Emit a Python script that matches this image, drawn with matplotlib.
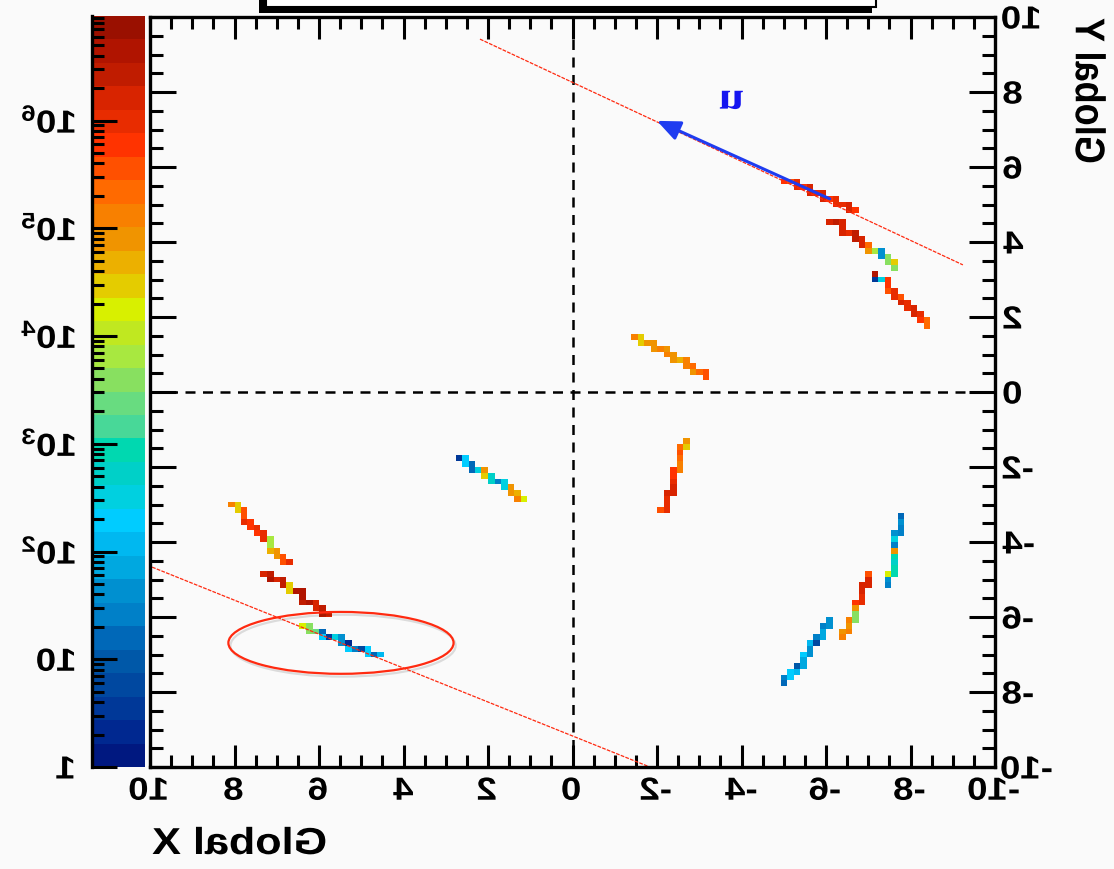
import numpy as np
import matplotlib
matplotlib.use('Agg')
import matplotlib.pyplot as plt
from matplotlib.colors import ListedColormap, LogNorm
from matplotlib.patches import Ellipse, Rectangle
from matplotlib.ticker import MultipleLocator, LogLocator
from matplotlib import patheffects
from matplotlib.transforms import Affine2D

plt.rcParams['font.family'] = 'Liberation Sans'
plt.rcParams['font.weight'] = 'bold'
plt.rcParams['mathtext.fontset'] = 'custom'
plt.rcParams['mathtext.rm'] = 'Liberation Sans:bold'
plt.rcParams['mathtext.default'] = 'rm'

# palette of the z axis, low counts -> high counts
palette = ['#001880', '#002890', '#003898', '#0048a0', '#0058a8', '#0068b8',
           '#0080c8', '#0090d0', '#00a8e0', '#00b8f0', '#00ccff', '#00d0e0',
           '#00d0c8', '#00d8b0', '#48d898', '#68dc80', '#88e060', '#a8e840',
           '#c0e820', '#d8f000', '#e4cc00', '#ecb000', '#f09400', '#f88000',
           '#ff6a00', '#ff5000', '#ff3300', '#e82c00', '#d82400', '#c01c00',
           '#b01400', '#9a1000']
z_top = 6.97  # log10 of palette maximum

# track pieces: start, end (global x, y) and log10(counts) of the cells along each
track_start = [(-4.96, 5.68), (-6.09, 4.56), (-7.11, 3.17), (-1.41, 1.47),
               (-2.14, -3.17), (-4.98, -7.79), (-6.38, -6.59), (-7.47, -5.20),
               (2.76, -1.76), (8.06, -3.07), (7.33, -4.77), (6.38, -6.27)]
track_end = [(-6.69, 4.83), (-7.68, 3.33), (-8.37, 1.73), (-3.16, 0.40),
             (-2.66, -1.25), (-6.07, -6.11), (-7.04, -4.77), (-7.75, -3.25),
             (1.12, -2.88), (6.76, -4.61), (5.83, -5.97), (4.60, -7.07)]
track_logz = [
    [5.8, 5.9, 5.6, 6.0, 5.8, 6.1, 5.7, 6.0, 6.2, 5.8, 6.0, 6.3, 5.9, 6.1, 5.7],
    [6.2, 6.4, 6.2, 6.3, 6.0, 6.4, 6.2, 5.4, 5.0, 3.8, 1.6, 3.6, 4.4, 3.5],
    [6.7, 0.6, 2.4, 5.8, 5.6, 6.0, 5.5, 6.1, 5.9, 6.2, 6.0, 5.8, 5.4],
    [0.8, 5.2, 4.4, 5.0, 4.8, 5.1, 4.9, 5.2, 5.0, 4.7, 5.1, 5.3, 5.0, 5.4, 5.5],
    [5.6, 6.0, 6.1, 5.9, 6.2, 6.3, 6.0, 5.8, 6.1, 5.7, 5.2, 5.4, 5.6, 5.3, 4.4, 5.0],
    [1.2, 1.5, 2.2, 2.0, 1.0, 1.8, 2.3, 1.6, 2.1, 0.8, 1.5, 1.9, 1.4, 1.7],
    [5.2, 5.0, 5.1, 4.9, 5.1, 3.7, 5.0, 5.6, 5.8, 6.0, 6.2, 6.3, 6.1, 6.4, 5.6],
    [1.4, 1.5, 1.6, 4.3, 3.0, 2.8, 2.9, 4.7, 5.0, 1.4, 2.4, 1.7, 1.5, 1.6, 1.3, 1.1],
    [3.7, 0.5, 2.3, 1.1, 2.4, 4.9, 4.4, 2.8, 1.5, 2.4, 5.0, 4.6, 5.2, 4.3],
    [5.2, 4.4, 5.6, 5.9, 5.8, 6.0, 5.7, 5.9, 3.9, 4.6, 5.0, 5.6, 5.9],
    [6.1, 6.4, 6.6, 6.3, 6.5, 4.4, 6.6, 6.7, 6.4, 6.6, 6.3, 6.5, 6.2],
    [4.3, 3.6, 3.4, 1.2, 2.3, 0.6, 2.4, 1.6, 0.4, 2.2, 1.5, 0.7, 2.3, 1.2, 2.1],
]

# fitted directions (thin red lines) and the drawn direction vector u
fit_start = [(2.19, 9.41), (9.95, -4.67)]
fit_end = [(-9.24, 3.39), (-1.83, -10.0)]
arrow_tail = (-6.09, 5.15)
arrow_head = (-2.00, 7.23)
u_pos = (-3.78, 7.81)
ring_center = (5.48, -6.69)
ring_size = (5.33, 1.65)

xtick_vals = [10, 8, 6, 4, 2, 0, -2, -4, -6, -8, -10]
xtick_labels = ['10', '8', '6', '4', '2', '0', '-2', '-4', '-6', '-8', '-10']
ytick_vals = [10, 8, 6, 4, 2, 0, -2, -4, -6, -8, -10]
ytick_labels = ['10', '8', '6', '4', '2', '0', '-2', '-4', '-6', '-8', '-10']
ztick_vals = [1, 10, 1e2, 1e3, 1e4, 1e5, 1e6]
ztick_labels = ['1', '10', r'$10^{2}$', r'$10^{3}$', r'$10^{4}$', r'$10^{5}$', r'$10^{6}$']

n_bins = 130


class Mirror(patheffects.AbstractPathEffect):
    """draw text glyphs mirrored left-right (and a bit wider) about their centre"""
    def __init__(self, stretch=1.15):
        super().__init__()
        self.stretch = stretch

    def draw_path(self, renderer, gc, tpath, affine, rgbFace=None):
        if len(tpath.vertices) == 0:
            return
        pts = affine.transform(tpath.vertices)
        cx = 0.5 * (pts[:, 0].min() + pts[:, 0].max())
        flip = affine + Affine2D().translate(-cx, 0).scale(-self.stretch, 1).translate(cx, 0)
        renderer.draw_path(gc, tpath, flip, rgbFace)


W, H = 1114, 870
bg = '#fafafa'
fig = plt.figure(figsize=(W / 100, H / 100), dpi=100, facecolor=bg)

# 2D histogram of hits, each track filled as a 4-connected staircase of bins
edges = np.linspace(-10, 10, n_bins + 1)
bin_w = edges[1] - edges[0]
counts = np.full((n_bins, n_bins), np.nan)
for (x0, y0), (x1, y1), lz in zip(track_start, track_end, track_logz):
    t = np.linspace(0, 1, len(lz))
    ix = ((x0 + (x1 - x0) * t + 10) / bin_w).astype(int)
    iy = ((y0 + (y1 - y0) * t + 10) / bin_w).astype(int)
    z = 10 ** np.array(lz)
    counts[iy, ix] = z
    for i in range(1, len(z)):
        if ix[i] != ix[i - 1] and iy[i] != iy[i - 1]:
            counts[iy[i - 1], ix[i]] = z[i]

cmap = ListedColormap(palette)
norm = LogNorm(vmin=1, vmax=10 ** z_top)

ax = fig.add_axes([150 / W, 1 - 768 / H, 845 / W, 750 / H])
ax.set_facecolor(bg)
mesh = ax.pcolormesh(edges, edges, np.ma.masked_invalid(counts), cmap=cmap, norm=norm)

ax.axvline(0, color='k', lw=1.8, ls=(0, (4, 3)))
ax.axhline(0, color='k', lw=1.8, ls=(0, (4, 3)))

for (x0, y0), (x1, y1) in zip(fit_start, fit_end):
    ax.plot([x0, x1], [y0, y1], color='#ff2a10', lw=0.9, ls=(0, (3, 1)))

ring = Ellipse(ring_center, ring_size[0], ring_size[1], fill=False,
               edgecolor='#ff2a10', lw=1.6)
ring.set_path_effects([patheffects.SimpleLineShadow(offset=(1.5, -2), alpha=0.12),
                       patheffects.Normal()])
ax.add_patch(ring)

ax.annotate('', xy=arrow_head, xytext=arrow_tail,
            arrowprops=dict(arrowstyle='-|>,head_length=0.7,head_width=0.3',
                            color='#1f3cf0', lw=2.2, shrinkA=0, shrinkB=0,
                            mutation_scale=20))
ax.text(u_pos[0], u_pos[1], 'u', family='Liberation Serif', weight='bold',
        color='#1414f0', fontsize=28, ha='center', va='center',
        path_effects=[Mirror()])

ax.set_xlim(10, -10)
ax.set_ylim(-10, 10)
ax.set_xticks(xtick_vals, labels=xtick_labels)
ax.set_yticks(ytick_vals, labels=ytick_labels)
ax.xaxis.set_minor_locator(MultipleLocator(0.5))
ax.yaxis.set_minor_locator(MultipleLocator(0.5))
ax.yaxis.tick_right()
ax.tick_params(which='both', direction='in', top=True, bottom=True,
               left=True, right=True, labelleft=False, labelright=True,
               labelsize=23, width=2.2, pad=7)
ax.tick_params(axis='x', which='major', length=16)
ax.tick_params(axis='x', which='minor', length=8.5)
ax.tick_params(axis='y', which='major', length=19)
ax.tick_params(axis='y', which='minor', length=9.5)
for s in ax.spines.values():
    s.set_linewidth(2.4)

# palette on the left
cax = fig.add_axes([92 / W, 1 - 768 / H, 53 / W, 751 / H])
cb = fig.colorbar(mesh, cax=cax, ticklocation='left')
cb.outline.set_visible(False)
cax.spines['left'].set_visible(True)
cax.spines['left'].set_linewidth(2.4)
cb.set_ticks(ztick_vals, labels=ztick_labels)
cb.minorlocator = LogLocator(base=10, subs=np.arange(2, 10), numticks=20)
cax.tick_params(which='both', direction='in', width=2.2, labelsize=23, pad=12)
cax.tick_params(which='major', length=18)
cax.tick_params(which='minor', length=8.5)

fig.text(240 / W, 1 - 845 / H, 'Global X', fontsize=27, ha='center', va='center',
         path_effects=[Mirror()])
fig.text(1094 / W, 1 - 92 / H, 'Global Y', fontsize=26, rotation=90,
         ha='center', va='center', path_effects=[Mirror()])

# empty title box cut by the top edge
fig.add_artist(Rectangle((259 / W, 1 - 14 / H), 613 / W, 30 / H, transform=fig.transFigure,
                         facecolor='k', edgecolor='none'))
fig.add_artist(Rectangle((266 / W, 1 - 8 / H), 610 / W, 30 / H, transform=fig.transFigure,
                         facecolor='white', edgecolor='k', lw=1.5))

fig.canvas.draw()
for lbl in ax.get_xticklabels() + ax.get_yticklabels() + cax.get_yticklabels():
    lbl.set_path_effects([Mirror()])

fig.savefig('out.png', dpi=100, facecolor=bg)
plt.close('all')
